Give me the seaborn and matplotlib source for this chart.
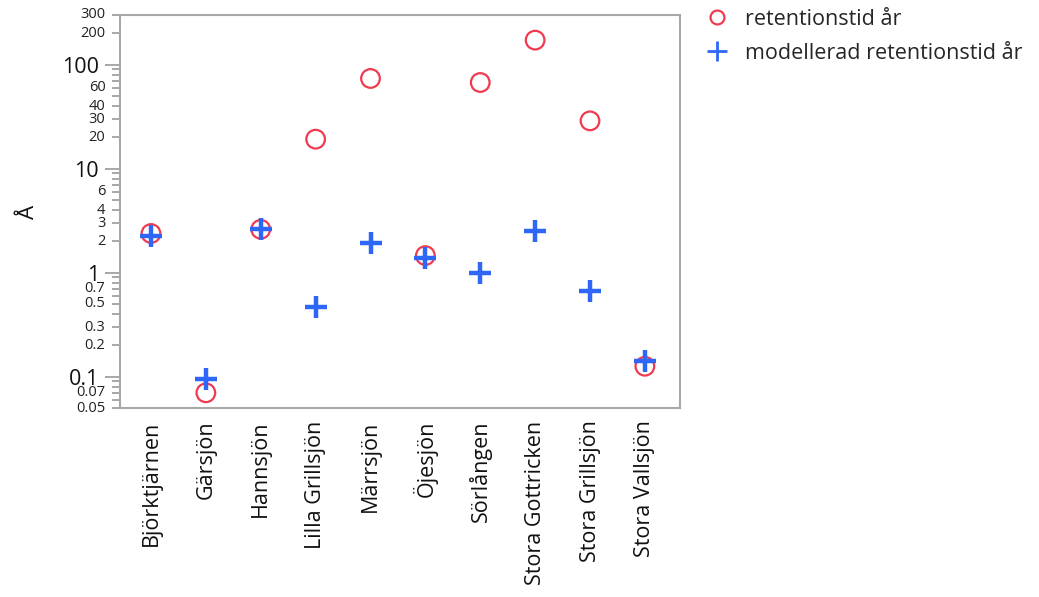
import matplotlib
matplotlib.use("Agg")
import matplotlib.pyplot as plt
import seaborn as sns
import pandas as pd
from matplotlib.ticker import FixedLocator, NullFormatter
from matplotlib.lines import Line2D

lakes = ["Björktjärnen", "Gärsjön", "Hannsjön", "Lilla Grillsjön", "Märrsjön",
         "Öjesjön", "Sörlången", "Stora Gottricken", "Stora Grillsjön", "Stora Vallsjön"]
retention = [2.38, 0.070, 2.61, 19.2, 73.6, 1.46, 67.3, 172, 28.8, 0.126]
modelled = [2.23, 0.094, 2.63, 0.47, 1.92, 1.39, 1.0, 2.52, 0.67, 0.141]

major_ticks = [0.1, 1, 10, 100]
major_labels = ["0.1", "1", "10", "100"]
minor_labels = [0.05, 0.07, 0.2, 0.3, 0.5, 0.7, 2, 3, 4, 6, 20, 30, 40, 60, 200, 300]

sns.set_theme(style="white")
plt.rcParams['font.family'] = ['Open Sans', 'DejaVu Sans']

df = pd.DataFrame({"sjö": lakes, "ret": retention, "mod": modelled})

fig = plt.figure(figsize=(10.39, 5.97), dpi=100)
ax = fig.add_axes([120/1039, 1-408/597, (680-120)/1039, (408-15)/597])

red = "#f03a4f"
blue = "#2e66f5"
sns.scatterplot(data=df, x="sjö", y="ret", ax=ax, marker="o", s=180,
                facecolors="none", edgecolor=red, linewidth=1.6, zorder=3, legend=False)
sns.scatterplot(data=df, x="sjö", y="mod", ax=ax, marker="+", s=240,
                color=blue, linewidth=3.2, zorder=4, legend=False)

ax.set_yscale("log")
ax.set_ylim(0.05, 300)
ax.set_xlim(-0.565, 9.64)

minor_all = []
for d in [0.01, 0.1, 1, 10, 100]:
    for m in range(2, 10):
        v = m * d
        if 0.05 <= v <= 300:
            minor_all.append(v)
ax.yaxis.set_major_locator(FixedLocator(major_ticks))
ax.yaxis.set_minor_locator(FixedLocator(minor_all))
ax.set_yticklabels(major_labels, fontsize=15.5)
ax.yaxis.set_minor_formatter(NullFormatter())
for v in minor_labels:
    ax.text(-0.026, v, "%g" % v, transform=ax.get_yaxis_transform(), ha="right", va="center",
            fontsize=10.5, color="#222222")

ax.tick_params(axis="y", which="major", length=11, width=1.3, color="#a0a0a0",
               left=True, direction="out", pad=4, labelcolor="#111111")
ax.tick_params(axis="y", which="minor", length=6, width=1.3, color="#a0a0a0",
               left=True, direction="out")
ax.tick_params(axis="x", length=0, labelsize=15.5, labelrotation=90, pad=9, labelcolor="#111111")

for s in ax.spines.values():
    s.set_color("#a8a8a8")
    s.set_linewidth(1.5)

ax.set_xlabel("")
ax.set_ylabel("")
fig.text(28/1039, 1-212/597, "Å", rotation=90, ha="center", va="center", fontsize=16, color="#111111")

handles = [
    Line2D([], [], linestyle="none", marker="o", markersize=10, markerfacecolor="none",
           markeredgecolor=red, markeredgewidth=1.6, label="retentionstid år"),
    Line2D([], [], linestyle="none", marker="+", markersize=15, color=blue,
           markeredgewidth=2.0, label="modellerad retentionstid år"),
]
ax.legend(handles=handles, loc="upper left", bbox_to_anchor=(1.0, 1.065), frameon=False,
          fontsize=15.5, handletextpad=0.5, labelspacing=0.6, handlelength=1.6)

fig.savefig("out.png", dpi=100)
